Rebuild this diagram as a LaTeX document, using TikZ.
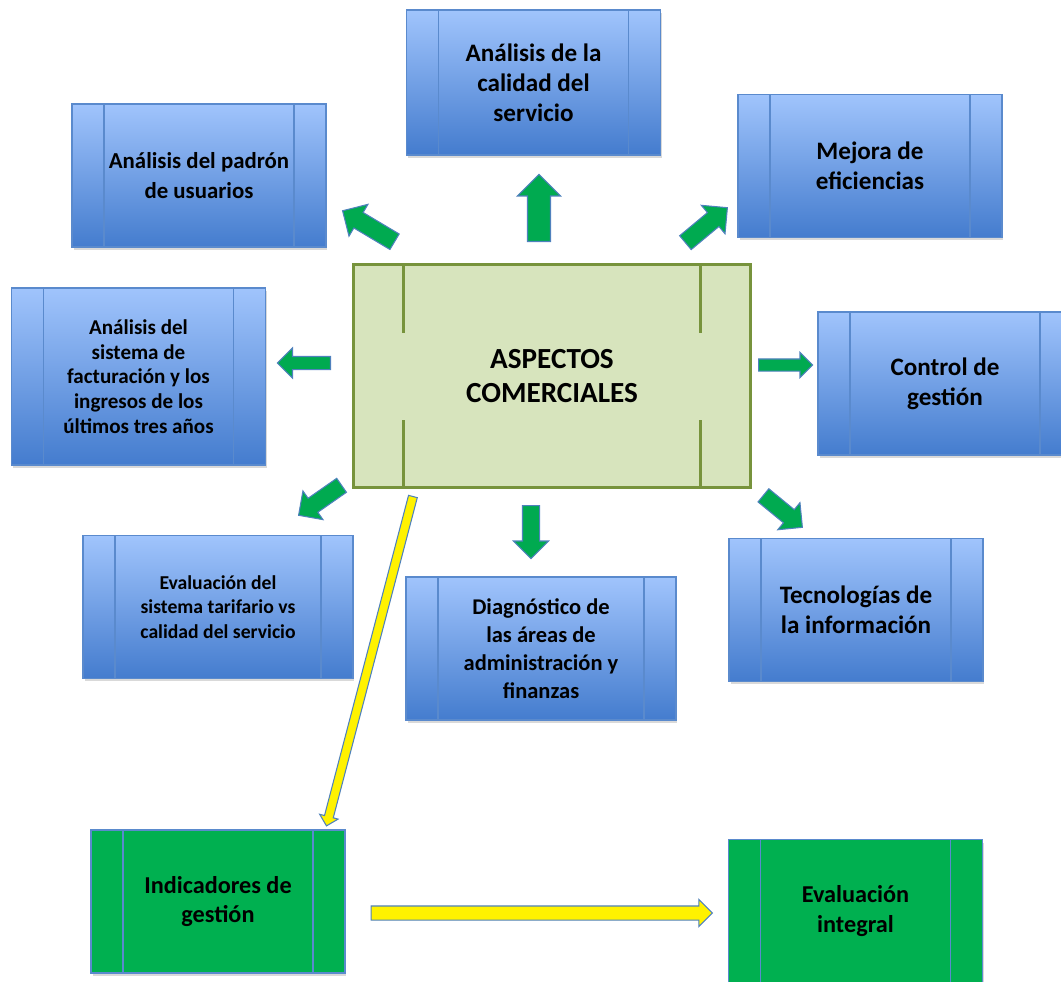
\documentclass[tikz,border=0pt]{standalone}
\usepackage{fontspec}
\setmainfont{Carlito}
\usepackage{xcolor}
\usepackage{tikz}
\usetikzlibrary{calc,shapes,shapes.arrows,shadows}

\definecolor{boxtop}{RGB}{160,196,252}
\definecolor{boxbottom}{RGB}{68,124,206}
\definecolor{boxedge}{RGB}{90,138,205}
\definecolor{centerfill}{RGB}{215,228,189}
\definecolor{centeredge}{RGB}{119,147,60}
\definecolor{resultgreen}{RGB}{0,176,80}
\definecolor{arrowgreen}{RGB}{0,170,80}
\definecolor{arrowedge}{RGB}{79,129,189}

\begin{document}
\begin{tikzpicture}[x=0.02cm, y=-0.02cm,
    caja/.style={rectangle, draw=boxedge, line width=0.7pt, minimum width=5.08cm, minimum height=2.86cm,
        align=center, font=\bfseries\fontsize{14.3}{17}\selectfont,
        drop shadow={shadow xshift=0.03cm, shadow yshift=-0.06cm, opacity=0.3},
        path picture={\draw[boxedge, line width=0.7pt]
            ([xshift=0.64cm]path picture bounding box.north west) -- ([xshift=0.64cm]path picture bounding box.south west)
            ([xshift=-0.64cm]path picture bounding box.north east) -- ([xshift=-0.64cm]path picture bounding box.south east);}},
    tarea/.style={caja, top color=boxtop, bottom color=boxbottom},
    resultado/.style={caja, fill=resultgreen, font=\bfseries\fontsize{13.8}{17}\selectfont},
    centro/.style={rectangle, draw=centeredge, line width=0.06cm, fill=centerfill, minimum width=7.94cm, minimum height=4.46cm,
        align=center, font=\bfseries\fontsize{16.6}{19}\selectfont,
        path picture={\draw[centeredge, line width=0.06cm]
            ([xshift=0.99cm]path picture bounding box.north west) -- ++(0,-1.36cm)
            ([xshift=-0.99cm]path picture bounding box.north east) -- ++(0,-1.36cm)
            ([xshift=0.99cm]path picture bounding box.south west) -- ++(0,1.36cm)
            ([xshift=-0.99cm]path picture bounding box.south east) -- ++(0,1.36cm);}},
    flecha/.style={single arrow, draw=arrowedge, line width=0.6pt, fill=arrowgreen, inner xsep=0pt,
        minimum width=0pt, sloped, allow upside down, pos=0, anchor=tail},
    amarilla/.style={flecha, fill=yellow}
]

    \useasboundingbox (0,0) rectangle (1061,981);
    \clip (0,0) rectangle (1061,981);

    % cajas
    \node[tarea, font=\bfseries\fontsize{13}{17}\selectfont] (padron) at (199,175.5) {Análisis del padrón\\de usuarios};
    \node[tarea, minimum height=2.9cm] (calidad) at (533.5,82.5) {Análisis de la\\calidad del\\servicio};
    \node[tarea, minimum width=5.28cm] (mejora) at (870,166) {Mejora de\\eficiencias};
    \node[tarea, minimum height=3.54cm, font=\bfseries\fontsize{12}{14}\selectfont] (facturacion) at (138.5,376.5)
        {Análisis del\\sistema de\\facturación y los\\ingresos de los\\últimos tres años};
    \node[tarea] (control) at (945,383.5) {Control de\\gestión};
    \node[tarea, minimum width=5.4cm, font=\bfseries\fontsize{11.2}{14}\selectfont] (tarifario) at (218,607)
        {Evaluación del\\sistema tarifario vs\\calidad del servicio};
    \node[tarea, minimum width=5.4cm, font=\bfseries\fontsize{12.8}{16}\selectfont] (diagnostico) at (541,648.5)
        {Diagnóstico de\\las áreas de\\administración y\\finanzas};
    \node[tarea] (tecnologias) at (856,610) {Tecnologías de\\la información};

    \node[centro] (aspectos) at (552,376) {ASPECTOS\\COMERCIALES};

    \node[resultado] (indicadores) at (218,901.5) {Indicadores de\\gestión};
    \node[resultado] (integral) at (855.5,911) {Evaluación\\integral};

    % flechas verdes: cola / punta / ancho / cabeza
    \foreach \ax/\ay/\bx/\by/\w/\h [count=\k, evaluate=\w as \ys using \w*0.01, evaluate=\h as \ext using (\h-\w)*0.01] in
        {395/242/343/211/17/36, 539/242/539/175/22/42, 685/243/727/208/17/36, 331/363/278/363/12/29,
         758/365/812/365/11/24, 342/485/299/515/16/34, 531/505/531/558/16/34, 763/495/802/527/16/34}{
       \path let \p1=($(\bx,\by)-(\ax,\ay)$), \n1={veclen(\x1,\y1)} in
           (\ax,\ay) -- node[flecha, minimum height=\n1, inner ysep=\ys cm, single arrow head extend=\ext cm] (g\k) {} (\bx,\by);
    }

    % flechas amarillas
    \coordinate (y1) at ($(aspectos.south west)+(61,7)$);
    \coordinate (y2) at ($(indicadores.north east)+(-19,-4)$);
    \coordinate (y3) at ($(indicadores.east)+(25,11.5)$);
    \coordinate (y4) at ($(integral.west)+(-16,2)$);

    \path let \p1=($(y2)-(y1)$), \n1={veclen(\x1,\y1)} in
        (y1) -- node[amarilla, minimum height=\n1, inner ysep=0.08cm, single arrow head extend=0.1cm] (ylarga) {} (y2);
    \path let \p1=($(y4)-(y3)$), \n1={veclen(\x1,\y1)} in
        (y3) -- node[amarilla, minimum height=\n1, inner ysep=0.13cm, single arrow head extend=0.13cm, single arrow tip angle=90] (ycorta) {} (y4);

\end{tikzpicture}
\end{document}
